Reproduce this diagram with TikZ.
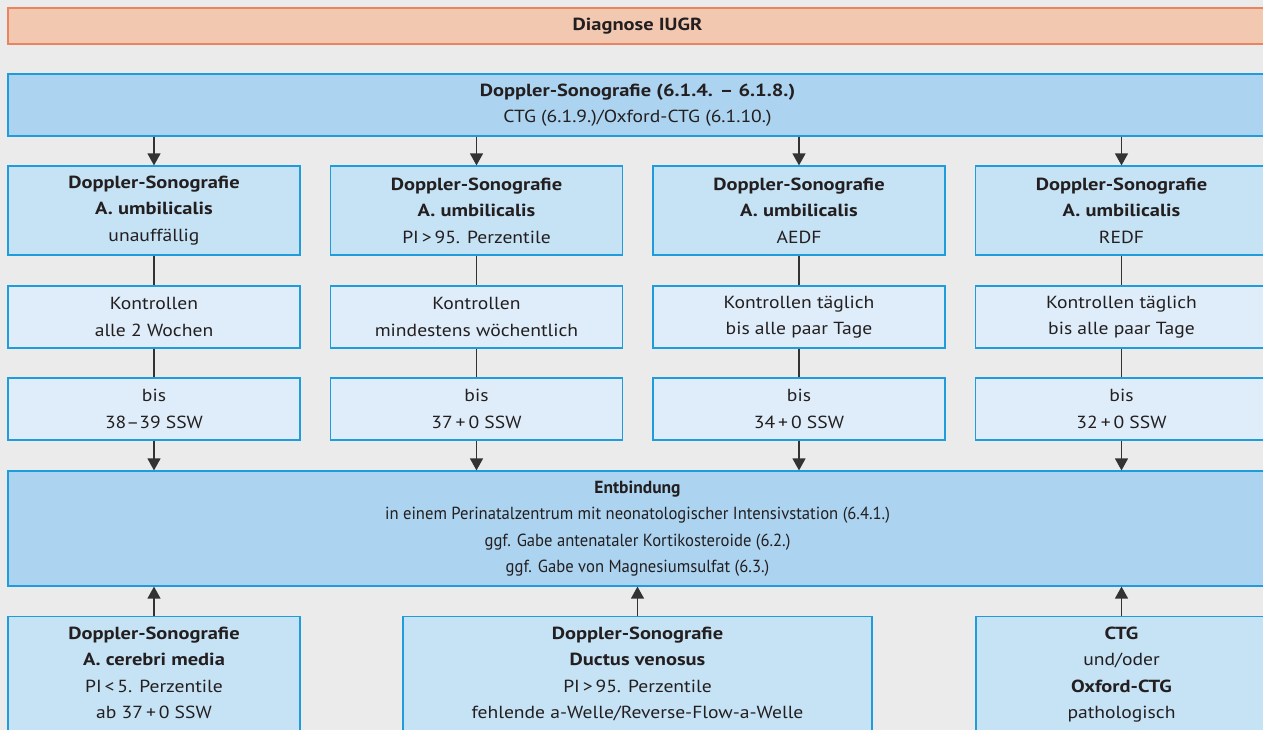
\documentclass[tikz,border=0pt]{standalone}
\usepackage{fontspec}
\setmainfont{PT Sans}[UprightFeatures={FakeStretch=1.12},BoldFeatures={FakeStretch=1.17}]
\newfontfamily\narrowfont{PT Sans}[UprightFeatures={FakeStretch=0.95}]
\usepackage{tikz}
\usetikzlibrary{arrows.meta}
\definecolor{bggray}{HTML}{EAEBEA}
\definecolor{iugrfill}{HTML}{F2C8B1}
\definecolor{iugrline}{HTML}{E8845F}
\definecolor{darkblue}{HTML}{ACD3F0}
\definecolor{midblue}{HTML}{C6E2F5}
\definecolor{paleblue}{HTML}{DEEDF9}
\definecolor{boxline}{HTML}{1E9CDC}
\definecolor{txt}{HTML}{231F20}
\definecolor{arr}{HTML}{333333}

\begin{document}
\begin{tikzpicture}[x=1pt,y=-1pt,
   box/.style={draw=boxline,line width=1.2pt,align=center,inner sep=0pt,
     text=txt,font=\fontsize{17.5}{26.5}\selectfont},
   head/.style={box,fill=darkblue,minimum width=1259pt},
   dop/.style={box,fill=midblue,minimum width=292pt,minimum height=89pt},
   ctrl/.style={box,fill=paleblue,minimum width=292pt,minimum height=62pt},
   cond/.style={box,fill=midblue,minimum height=139pt,anchor=north},
   link/.style={draw=arr,line width=1.3pt},
   arrow/.style={link,-{Triangle[width=13pt,length=12pt]}}]
\useasboundingbox[fill=bggray] (0,0) rectangle (1263,730);
\node[box,draw=iugrline,fill=iugrfill,minimum width=1259pt,minimum height=36pt] (iugr) at (637.5,26) {\textbf{Diagnose IUGR}};
\node[head,minimum height=62pt] (sono) at (637.5,105) {\textbf{Doppler-Sonografie (6.1.4. -- 6.1.8.)}\\CTG (6.1.9.)/Oxford-CTG (6.1.10.)};
\node[dop] (au1) at (154,210.5) {\textbf{Doppler-Sonografie}\\\textbf{A. umbilicalis}\\unauffällig};
\node[dop] (au2) at (476.5,210.5) {\textbf{Doppler-Sonografie}\\\textbf{A. umbilicalis}\\PI\,>\,95. Perzentile};
\node[dop] (au3) at (799,210.5) {\textbf{Doppler-Sonografie}\\\textbf{A. umbilicalis}\\AEDF};
\node[dop] (au4) at (1121.5,210.5) {\textbf{Doppler-Sonografie}\\\textbf{A. umbilicalis}\\REDF};
\node[ctrl] (ko1) at (154,317) {Kontrollen\\alle 2 Wochen};
\node[ctrl] (ko2) at (476.5,317) {Kontrollen\\mindestens wöchentlich};
\node[ctrl] (ko3) at (799,317) {Kontrollen täglich\\bis alle paar Tage};
\node[ctrl] (ko4) at (1121.5,317) {Kontrollen täglich\\bis alle paar Tage};
\node[ctrl] (bis1) at (154,409) {bis\\38--39 SSW};
\node[ctrl] (bis2) at (476.5,409) {bis\\37\,+\,0 SSW};
\node[ctrl] (bis3) at (799,409) {bis\\34\,+\,0 SSW};
\node[ctrl] (bis4) at (1121.5,409) {bis\\32\,+\,0 SSW};
\node[head,minimum height=115pt,font=\narrowfont\fontsize{17.5}{26.5}\selectfont] (entb) at (637.5,528.5) {\textbf{Entbindung}\\in einem Perinatalzentrum mit neonatologischer Intensivstation (6.4.1.)\\ggf. Gabe antenataler Kortikosteroide (6.2.)\\ggf. Gabe von Magnesiumsulfat (6.3.)};
\node[cond,minimum width=292pt] (acm) at (154,616) {\textbf{Doppler-Sonografie}\\\textbf{A. cerebri media}\\PI\,<\,5. Perzentile\\ab 37\,+\,0 SSW\\\mbox{}};
\node[cond,minimum width=469pt] (dv) at (637.5,616) {\textbf{Doppler-Sonografie}\\\textbf{Ductus venosus}\\PI\,>\,95. Perzentile\\fehlende a-Welle/Reverse-Flow-a-Welle\\\mbox{}};
\node[cond,minimum width=291pt] (ctg) at (1121.5,616) {\textbf{CTG}\\und/oder\\\textbf{Oxford-CTG}\\pathologisch\\\mbox{}};
\draw[arrow] (sono.south -| au1.north) -- (au1.north);
\draw[arrow] (sono.south -| au2.north) -- (au2.north);
\draw[arrow] (sono.south -| au3.north) -- (au3.north);
\draw[arrow] (sono.south -| au4.north) -- (au4.north);
\draw[link] (au1) -- (ko1);
\draw[link] (au2) -- (ko2);
\draw[link] (au3) -- (ko3);
\draw[link] (au4) -- (ko4);
\draw[link] (ko1) -- (bis1);
\draw[link] (ko2) -- (bis2);
\draw[link] (ko3) -- (bis3);
\draw[link] (ko4) -- (bis4);
\draw[arrow] (bis1.south) -- (bis1.south |- entb.north);
\draw[arrow] (bis2.south) -- (bis2.south |- entb.north);
\draw[arrow] (bis3.south) -- (bis3.south |- entb.north);
\draw[arrow] (bis4.south) -- (bis4.south |- entb.north);
\draw[arrow] (acm.north) -- (acm.north |- entb.south);
\draw[arrow] (dv.north) -- (dv.north |- entb.south);
\draw[arrow] (ctg.north) -- (ctg.north |- entb.south);
\end{tikzpicture}
\end{document}
